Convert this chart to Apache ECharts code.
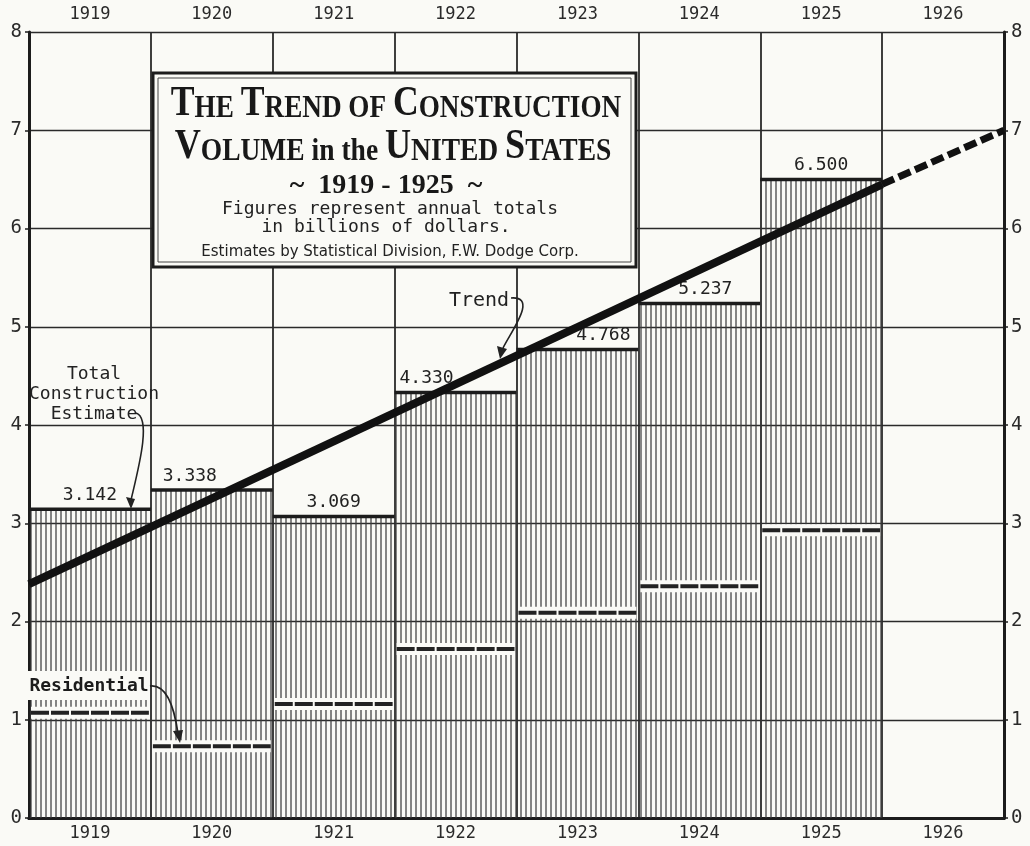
<!DOCTYPE html>
<html>
<head>
<meta charset="utf-8">
<title>The Trend of Construction Volume in the United States</title>
<script src="https://cdn.jsdelivr.net/npm/echarts@6/dist/echarts.min.js"></script>
<style>
  html, body { margin: 0; padding: 0; background: #fafaf6; }
  #chart { width: 1030px; height: 846px; }
</style>
</head>
<body>
<div id="chart"></div>
<script>
// Annual construction volume, billions of dollars (F.W. Dodge Corp. estimates)
const years = ['1919', '1920', '1921', '1922', '1923', '1924', '1925', '1926'];
const totalValues = [3.142, 3.338, 3.069, 4.330, 4.768, 5.237, 6.500, null];
const residentialValues = [1.07, 0.73, 1.16, 1.72, 2.09, 2.36, 2.93, null];

// Trend line: start of 1919, end of 1925 (solid), projected to end of 1926 (dashed)
const trendYears = [1919, 1926, 1927];
const trendValues = [2.38, 6.45, 7.0];

const yTicks = [0, 1, 2, 3, 4, 5, 6, 7, 8];

const BG = '#fafaf6';
const INK = '#1c1c1c';
const MONO = '"DejaVu Sans Mono", "Liberation Mono", monospace';
const SERIF = '"Liberation Serif", "DejaVu Serif", serif';

// horizontal nudges for value labels that would sit under the trend line
const labelShift = { '1920': -22, '1922': -29, '1923': 26, '1924': 6 };

// vertical hatching used to fill the bars
function makeHatch() {
  const c = document.createElement('canvas');
  c.width = 5; c.height = 8;
  const g = c.getContext('2d');
  g.fillStyle = 'rgba(60,60,60,0.62)';
  g.fillRect(0, 0, 2, 8);
  return c;
}
const hatch = { image: makeHatch(), repeat: 'repeat' };

const barData = [];
years.forEach((y, i) => {
  if (totalValues[i] != null) barData.push([i, totalValues[i], residentialValues[i]]);
});

const chart = echarts.init(document.getElementById('chart'), null, { renderer: 'canvas' });

const catAxisBase = {
  type: 'category',
  data: years,
  boundaryGap: true,
  axisTick: { show: false },
  axisLine: { show: true, lineStyle: { color: INK, width: 3 } },
  axisLabel: { color: '#2a2a2a', fontFamily: MONO, fontSize: 17, interval: 0 }
};

const valAxisBase = {
  type: 'value',
  min: 0, max: 8, interval: 1,
  axisLine: { show: true, lineStyle: { color: INK, width: 3 } },
  axisTick: { show: true, length: 4, lineStyle: { color: INK, width: 1.5 } },
  axisLabel: {
    color: '#2a2a2a', fontFamily: MONO, fontSize: 19, margin: 7,
    formatter: v => (yTicks.indexOf(v) >= 0 ? String(v) : '')
  }
};

const titleRich = {
  b: { fontFamily: SERIF, fontWeight: 'bold', fontSize: 42, lineHeight: 42, verticalAlign: 'bottom', fill: '#181818' },
  s: { fontFamily: SERIF, fontWeight: 'bold', fontSize: 32, lineHeight: 42, verticalAlign: 'bottom', fill: '#181818' }
};

const option = {
  backgroundColor: BG,
  animation: false,
  grid: { left: 29, right: 26, top: 32, bottom: 28, containLabel: false },
  xAxis: [
    Object.assign({}, catAxisBase, {
      position: 'bottom',
      axisLabel: Object.assign({}, catAxisBase.axisLabel, { margin: 7 }),
      splitLine: { show: true, interval: 0, lineStyle: { color: '#2a2a2a', width: 1.8 } }
    }),
    Object.assign({}, catAxisBase, {
      position: 'top',
      axisLabel: Object.assign({}, catAxisBase.axisLabel, { margin: 9 }),
      splitLine: { show: false }
    }),
    { type: 'value', min: trendYears[0], max: trendYears[2], show: false, gridIndex: 0 }
  ],
  yAxis: [
    Object.assign({}, valAxisBase, {
      position: 'left',
      splitLine: { show: true, lineStyle: { color: '#2a2a2a', width: 1.4 } }
    }),
    Object.assign({}, valAxisBase, {
      position: 'right',
      splitLine: { show: false }
    })
  ],
  series: [
    {
      type: 'custom',
      name: 'Total Construction Estimate',
      xAxisIndex: 0, yAxisIndex: 0,
      z: 2,
      data: barData,
      encode: { x: 0, y: 1 },
      renderItem: function (params, api) {
        const i = api.value(0);
        const total = api.value(1);
        const res = api.value(2);
        const base = api.coord([i, 0]);
        const top = api.coord([i, total]);
        const rp = api.coord([i, res]);
        const bw = api.size([1, 0])[0];
        const x0 = base[0] - bw / 2;
        const x1 = base[0] + bw / 2;
        const shift = labelShift[years[i]] || 0;
        return {
          type: 'group',
          children: [
            { type: 'rect', shape: { x: x0, y: top[1], width: bw, height: base[1] - top[1] },
              style: { fill: hatch } },
            // residential level: a gap in the hatching carrying a heavy dashed rule
            { type: 'rect', shape: { x: x0 + 2, y: rp[1] - 6, width: bw - 4, height: 12 },
              style: { fill: BG } },
            { type: 'line', shape: { x1: x0 + 2, y1: rp[1], x2: x1 - 2, y2: rp[1] },
              style: { stroke: '#222', lineWidth: 4, lineDash: [18, 2] } },
            // top edge of the total
            { type: 'line', shape: { x1: x0, y1: top[1], x2: x1, y2: top[1] },
              style: { stroke: INK, lineWidth: 3.5 } },
            { type: 'text', x: base[0] + shift, y: top[1] - 14,
              style: { text: total.toFixed(3), fill: '#222', font: '18px ' + MONO,
                       textAlign: 'center', textVerticalAlign: 'middle' } }
          ]
        };
      }
    },
    {
      type: 'line',
      name: 'Trend',
      xAxisIndex: 2, yAxisIndex: 0,
      z: 5,
      symbol: 'none',
      silent: true,
      lineStyle: { color: '#111', width: 8, cap: 'butt' },
      data: [[trendYears[0], trendValues[0]], [trendYears[1], trendValues[1]]]
    },
    {
      type: 'line',
      name: 'Trend projection',
      xAxisIndex: 2, yAxisIndex: 0,
      z: 5,
      symbol: 'none',
      silent: true,
      lineStyle: { color: '#111', width: 7, type: [13, 5], cap: 'butt' },
      data: [[trendYears[1], trendValues[1]], [trendYears[2], trendValues[2]]]
    }
  ],
  graphic: [
    // title panel
    { type: 'rect', z: 100, shape: { x: 153, y: 73, width: 483, height: 194 },
      style: { fill: BG, stroke: INK, lineWidth: 3 } },
    { type: 'rect', z: 100, shape: { x: 158, y: 78, width: 473, height: 184 },
      style: { fill: 'none', stroke: '#444', lineWidth: 1 } },
    { type: 'text', z: 101, x: 396, y: 104, scaleX: 0.85,
      style: {
        text: '{b|T}{s|HE }{b|T}{s|REND OF }{b|C}{s|ONSTRUCTION}',
        textAlign: 'center', textVerticalAlign: 'middle', fill: '#181818',
        rich: titleRich
      } },
    { type: 'text', z: 101, x: 393, y: 147, scaleX: 0.86,
      style: {
        text: '{b|V}{s|OLUME in the }{b|U}{s|NITED }{b|S}{s|TATES}',
        textAlign: 'center', textVerticalAlign: 'middle', fill: '#181818',
        rich: titleRich
      } },
    { type: 'text', z: 101, x: 386, y: 186,
      style: { text: '~  1919 - 1925  ~', font: 'bold 28px ' + SERIF, fill: '#181818',
               textAlign: 'center', textVerticalAlign: 'middle' } },
    { type: 'text', z: 101, x: 390, y: 209,
      style: { text: 'Figures represent annual totals', font: '18px ' + MONO, fill: '#222',
               textAlign: 'center', textVerticalAlign: 'middle' } },
    { type: 'text', z: 101, x: 386, y: 227,
      style: { text: 'in billions of dollars.', font: '18px ' + MONO, fill: '#222',
               textAlign: 'center', textVerticalAlign: 'middle' } },
    { type: 'text', z: 101, x: 390, y: 252,
      style: { text: 'Estimates by Statistical Division, F.W. Dodge Corp.',
               font: '15px "DejaVu Sans", sans-serif', fill: '#222',
               textAlign: 'center', textVerticalAlign: 'middle' } },

    // "Total Construction Estimate" note and pointer
    { type: 'text', z: 50, x: 94, y: 394,
      style: { text: 'Total\nConstruction\nEstimate', font: '18px ' + MONO, fill: '#222',
               lineHeight: 20, textAlign: 'center', textVerticalAlign: 'middle' } },
    { type: 'bezierCurve', z: 50,
      shape: { x1: 136, y1: 413, cpx1: 152, cpy1: 418, cpx2: 138, cpy2: 470, x2: 131, y2: 500 },
      style: { stroke: '#222', lineWidth: 1.6, fill: 'none' } },
    { type: 'polygon', z: 50, shape: { points: [[126, 497], [135, 499], [131, 509]] },
      style: { fill: '#222' } },

    // "Residential" note and pointer
    { type: 'rect', z: 50, shape: { x: 28, y: 671, width: 122, height: 29 },
      style: { fill: BG } },
    { type: 'text', z: 51, x: 89, y: 686,
      style: { text: 'Residential', font: 'bold 18px ' + MONO, fill: '#1c1c1c',
               textAlign: 'center', textVerticalAlign: 'middle' } },
    { type: 'bezierCurve', z: 50,
      shape: { x1: 150, y1: 686, cpx1: 168, cpy1: 684, cpx2: 175, cpy2: 712, x2: 178, y2: 734 },
      style: { stroke: '#222', lineWidth: 1.8, fill: 'none' } },
    { type: 'polygon', z: 50, shape: { points: [[173, 731], [183, 730], [180, 743]] },
      style: { fill: '#222' } },

    // "Trend" note and pointer
    { type: 'text', z: 50, x: 479, y: 301,
      style: { text: 'Trend', font: '20px ' + MONO, fill: '#222',
               textAlign: 'center', textVerticalAlign: 'middle' } },
    { type: 'bezierCurve', z: 50,
      shape: { x1: 511, y1: 298, cpx1: 538, cpy1: 296, cpx2: 512, cpy2: 330, x2: 503, y2: 348 },
      style: { stroke: '#222', lineWidth: 1.6, fill: 'none' } },
    { type: 'polygon', z: 50, shape: { points: [[497, 346], [507, 349], [500, 359]] },
      style: { fill: '#222' } }
  ]
};

chart.setOption(option);
</script>
</body>
</html>
